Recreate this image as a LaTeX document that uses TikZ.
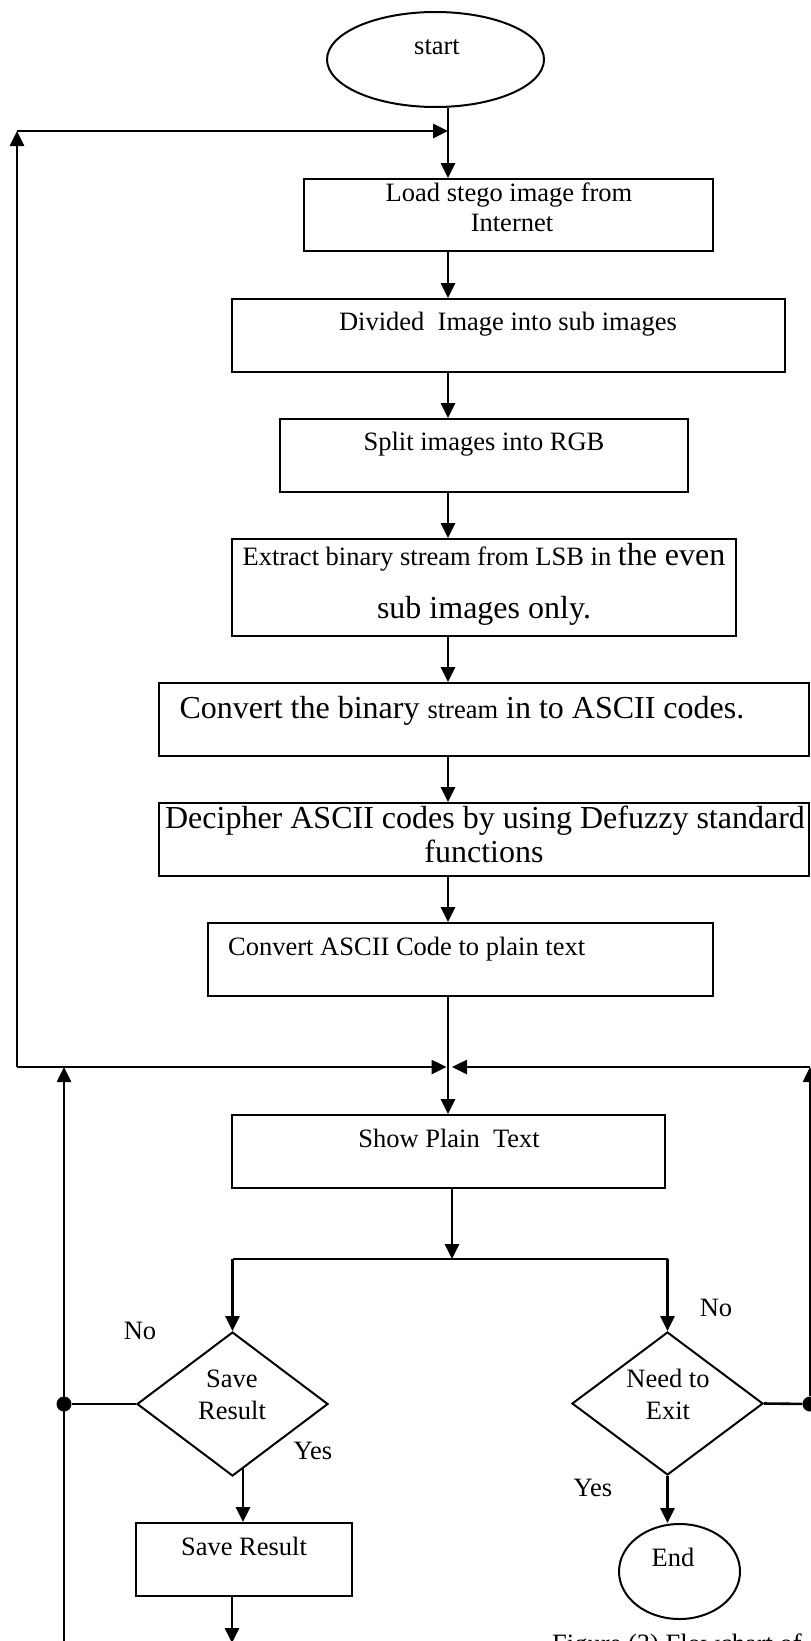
\documentclass[tikz,border=0pt]{standalone}
\usepackage{fontspec}
\setmainfont{Liberation Serif}
\usetikzlibrary{arrows.meta,shapes.geometric}
\newcommand{\nrm}{\fontsize{26.5}{30}\selectfont}
\newcommand{\bigf}{\fontsize{32}{36}\selectfont}
\tikzset{
  shp/.style={draw, line width=2pt, inner sep=0pt},
  boxx/.style={shp, rectangle},
  ell/.style={shp, ellipse},
  dia/.style={shp, diamond},
  txt/.style={inner sep=0pt, font=\nrm, text height=0.8em, text depth=0.2em},
  ln/.style={line width=2.6pt},
  arr/.style={ln, -{Triangle[length=15pt,width=14pt]}},
  dot/.style={circle, fill=black, inner sep=0pt, minimum size=15pt},
}
\begin{document}
\begin{tikzpicture}[x=1pt,y=-1pt]
\useasboundingbox (0,0) rectangle (811,1641);
\clip (0,0) rectangle (811,1641);
\fill[white] (0,0) rectangle (811,1641);

% shapes
\node[ell, minimum width=217pt, minimum height=95pt] (start) at (435.5,59.5) {};
\node[boxx, minimum width=409pt, minimum height=72pt] (b1) at (508.5,215) {};
\node[boxx, minimum width=553pt, minimum height=73pt] (b2) at (508.5,335.5) {};
\node[boxx, minimum width=408pt, minimum height=73pt] (b3) at (484,455.5) {};
\node[boxx, minimum width=504pt, minimum height=97pt] (b4) at (484,587.5) {};
\node[boxx, minimum width=650pt, minimum height=73pt] (b5) at (484,719.5) {};
\node[boxx, minimum width=650pt, minimum height=73pt] (b6) at (484,839.5) {};
\node[boxx, minimum width=505pt, minimum height=73pt] (b7) at (460.5,959.5) {};
\node[boxx, minimum width=433pt, minimum height=73pt] (b8) at (448.5,1151.5) {};
\node[dia, minimum width=191pt, minimum height=144pt] (d1) at (232.5,1404) {};
\node[dia, minimum width=191pt, minimum height=143pt] (d2) at (667.5,1403.5) {};
\node[boxx, minimum width=216pt, minimum height=73pt] (b9) at (244,1559.5) {};
\node[ell, minimum width=121pt, minimum height=95pt] (end) at (679.5,1571.5) {};
\node[dot] (dotL) at (64,1404) {};
\node[dot] (dotR) at (810,1404) {};

% texts
\node[txt] (tstart) at (437,51) {start};
\node[txt] (t1a) at (509,198) {Load stego image from};
\node[txt] (t1b) at (512,228) {Internet};
\node[txt] (t2) at (508,327) {Divided\ \ Image into sub images};
\node[txt] (t3) at (484,447) {Split images into RGB};
\node[txt] (t4a) at (484,562) {Extract binary stream from LSB in {\bigf the even}};
\node[txt, font=\bigf] (t4b) at (484,615) {sub images only.};
\node[txt, font=\bigf] (t5) at (462,715) {Convert the binary {\nrm stream} in to ASCII codes.};
\node[txt, font=\bigf] (t6a) at (485,825) {Decipher ASCII codes by using Defuzzy standard};
\node[txt, font=\bigf] (t6b) at (484,859) {functions};
\node[txt, anchor=west] (t7) at (228,952) {Convert ASCII Code to plain text};
\node[txt] (t8) at (449,1144) {Show Plain\ \ Text};
\node[txt] (td1a) at (232,1384) {Save};
\node[txt] (td1b) at (232,1416) {Result};
\node[txt] (td2a) at (668,1384) {Need to};
\node[txt] (td2b) at (668,1416) {Exit};
\node[txt] (t9) at (244,1552) {Save Result};
\node[txt] (tend) at (673,1563) {End};
\node[txt] (no1) at (140,1336) {No};
\node[txt] (yes1) at (313,1456) {Yes};
\node[txt] (no2) at (716,1313) {No};
\node[txt] (yes2) at (593,1493) {Yes};
\node[inner sep=0pt, font=\nrm, anchor=base west] (cap) at (552,1652) {Figure (3) Flowchart of};

% coordinates
\coordinate (top) at (448,131);
\coordinate (tl) at (17,131);
\coordinate (jn) at (448,1067);
\coordinate (jl) at (17,1067);
\coordinate (jr) at (810,1067);
\coordinate (ll) at (64,1067);
\coordinate (lb) at (64,1641);
\coordinate (sp) at (452,1259);
\coordinate (ys) at (243,1467);
\coordinate (sb) at (232,1643);

% connectors
\draw[ln] (start.south -| top) -- (top);
\draw[arr] (top) -- (top |- b1.north);
\draw[arr] (jl) -- (tl);
\draw[arr] (tl) -- (top);
\draw[arr] (top |- b1.south) -- (top |- b2.north);
\draw[arr] (top |- b2.south) -- (top |- b3.north);
\draw[arr] (top |- b3.south) -- (top |- b4.north);
\draw[arr] (top |- b4.south) -- (top |- b5.north);
\draw[arr] (top |- b5.south) -- (top |- b6.north);
\draw[arr] (top |- b6.south) -- (top |- b7.north);
\draw[ln] (top |- b7.south) -- (jn);
\draw[arr, shorten >=1.5pt] (jl) -- (jn);
\draw[arr, shorten >=4pt] (jr) -- (jn);
\draw[arr] (jn) -- (jn |- b8.north);
\draw[arr] (sp |- b8.south) -- (sp);
\draw[ln] (d1.north |- sp) -- (d2.north |- sp);
\draw[arr] (d1.north |- sp) -- (d1.north);
\draw[arr] (d2.north |- sp) -- (d2.north);
\draw[ln] (d1.west) -- (dotL);
\draw[arr] (lb) -- (ll);
\draw[ln] (d2.east) -- (dotR);
\draw[arr] (dotR) -- (jr);
\draw[arr] (ys) -- (ys |- b9.north);
\draw[arr] (b9.south -| sb) -- (sb);
\draw[arr] (d2.south) -- (d2.south |- end.north);
\end{tikzpicture}
\end{document}
